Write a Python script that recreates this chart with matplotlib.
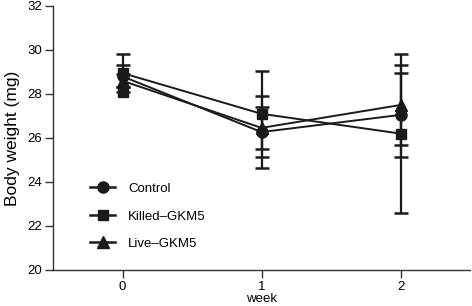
import matplotlib
matplotlib.use("Agg")
import matplotlib.pyplot as plt
from matplotlib.lines import Line2D

plt.rcParams['font.family'] = ['Liberation Sans', 'DejaVu Sans']

weeks = [0, 1, 2]
week_labels = ["0", "1", "2"]
control = [28.80, 26.27, 27.05]
control_err = [0.50, 1.63, 1.92]
killed = [28.95, 27.10, 26.20]
killed_err = [0.87, 1.96, 3.60]
live = [28.60, 26.46, 27.50]
live_err = [0.30, 0.96, 1.82]

fig = plt.figure(figsize=(4.72, 3.06), dpi=100)
ax = fig.add_axes([53/472, 1-270/306, 417/472, 264/306])

series = [
    ("Control", control, control_err, "o", 8),
    ("Killed\u2013GKM5", killed, killed_err, "s", 7.5),
    ("Live\u2013GKM5", live, live_err, "^", 8),
]
c = "#1a1a1a"
handles = []
for label, vals, errs, m, ms in series:
    ax.errorbar(weeks, vals, yerr=errs, color=c, marker=m, markersize=ms,
                linewidth=1.4, elinewidth=1.6, capsize=5, capthick=1.8,
                clip_on=False)
    handles.append(Line2D([], [], color=c, marker=m, markersize=ms,
                          linewidth=1.8, label=label))
# square drawn at lower end of Killed error bar at week 0 (as in original)
ax.plot([weeks[0]], [killed[0] - killed_err[0]], marker="s", markersize=7.5,
        color=c, linestyle="none")

ax.set_xlim(-0.5, 2.5)
ax.set_ylim(20, 32)
ax.set_yticks(range(20, 33, 2))
ax.set_xticks(weeks)
ax.set_xticklabels(week_labels)
for s in ["top", "right"]:
    ax.spines[s].set_visible(False)
for s in ["left", "bottom"]:
    ax.spines[s].set_color("#333333")
    ax.spines[s].set_linewidth(1.0)
ax.tick_params(axis="both", direction="out", length=6, width=1.0,
               color="#333333", labelsize=9.5, pad=2)
ax.set_ylabel("Body weight (mg)", fontsize=12.5, labelpad=5)
ax.set_xlabel("week", fontsize=9.5, labelpad=0)

ax.legend(handles=handles, loc="upper left",
          bbox_to_anchor=(0.073, 0.355), frameon=False, fontsize=9.5,
          labelspacing=1.15, handlelength=1.9, handletextpad=1.0,
          borderpad=0)
fig.savefig("out.png", dpi=100)
